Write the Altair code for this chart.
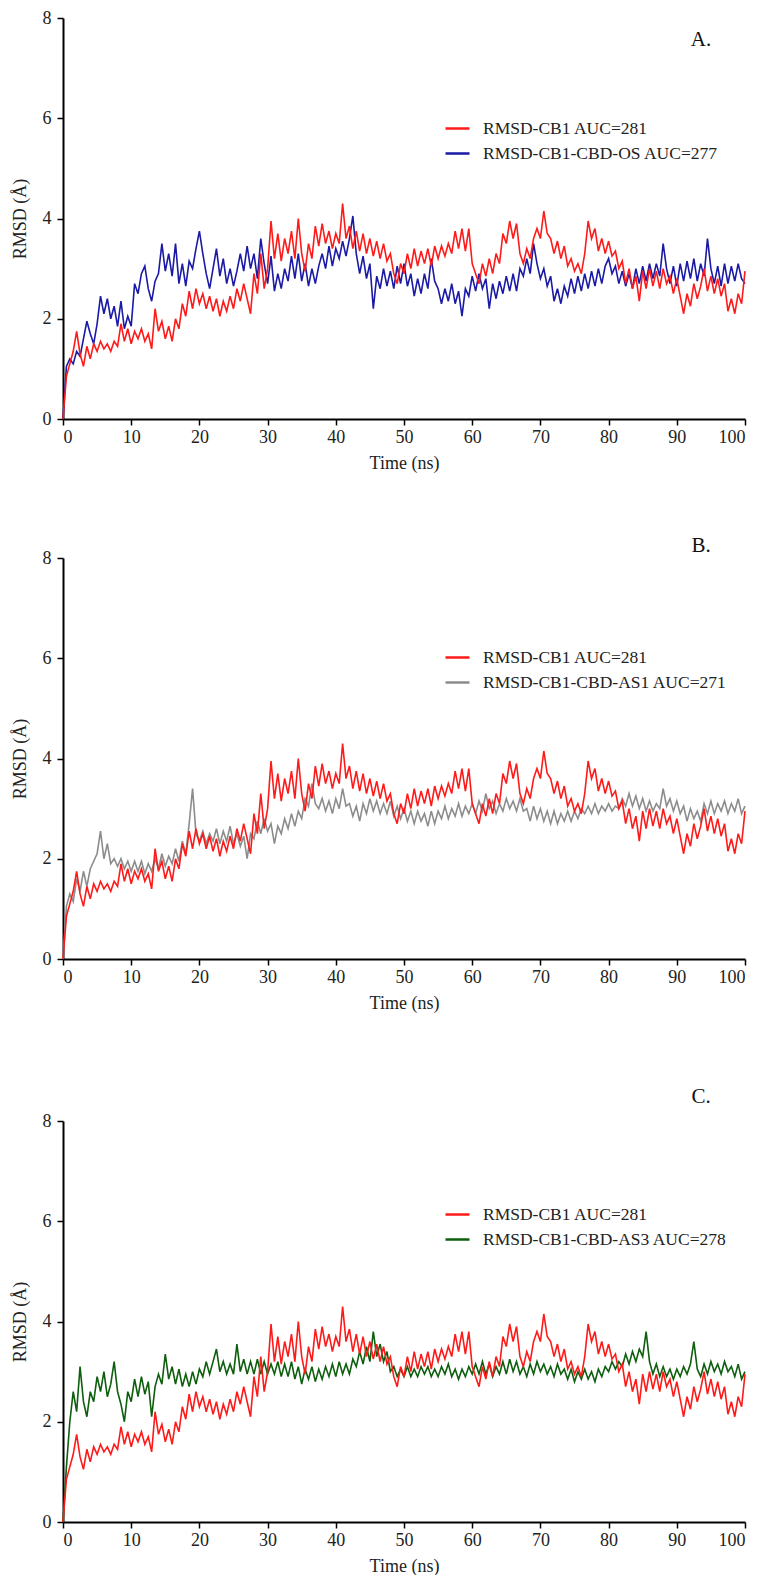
import altair as alt
import pandas as pd
import numpy as np

# time axis (ns), sampled every 0.5 ns
time_ns = [round(x, 1) for x in np.arange(0, 100.5, 0.5)]

rmsd_cb1 = [
    0, 0.85, 1.1, 1.35, 1.75, 1.3, 1.05, 1.45, 1.2, 1.5,
    1.35, 1.55, 1.4, 1.5, 1.35, 1.55, 1.45, 1.9, 1.55, 1.8,
    1.5, 1.75, 1.6, 1.8, 1.55, 1.7, 1.4, 2.2, 1.75, 1.95,
    1.6, 1.85, 1.55, 2.0, 1.8, 2.3, 2.05, 2.55, 2.2, 2.6,
    2.3, 2.5, 2.2, 2.45, 2.15, 2.4, 2.05, 2.35, 2.15, 2.45,
    2.2, 2.6, 2.35, 2.7, 2.4, 2.1, 2.9, 2.5, 3.3, 2.6,
    3.0, 3.95, 3.2, 3.7, 3.15, 3.6, 3.3, 3.75, 3.2, 4.0,
    3.3, 2.95, 3.5, 3.2, 3.85, 3.45, 3.9, 3.5, 3.75, 3.4,
    3.7, 3.5, 4.3, 3.6, 3.85, 3.4, 3.75, 3.35, 3.7, 3.3,
    3.6, 3.25, 3.55, 3.2, 3.5, 3.15, 3.3, 2.9, 2.7, 3.1,
    2.9, 3.3, 3.0, 3.4, 3.05, 3.35, 3.1, 3.4, 3.05, 3.45,
    3.2, 3.45, 3.25, 3.5, 3.3, 3.75, 3.4, 3.8, 3.35, 3.8,
    3.1, 2.9, 2.7, 3.1, 2.85, 3.2, 2.9, 3.3, 3.1, 3.7,
    3.5, 3.95, 3.6, 3.9, 3.3, 3.1, 3.4, 3.2, 3.6, 3.8,
    3.6, 4.15, 3.7, 3.6, 3.3, 3.55, 3.2, 3.45, 3.05, 3.2,
    2.95, 3.1, 2.9, 3.3, 3.95, 3.6, 3.8, 3.35, 3.6, 3.3,
    3.55, 3.25, 3.35, 3.0, 3.15, 2.7, 3.0, 2.6, 2.85, 2.35,
    2.95, 2.6, 3.0, 2.65, 2.95, 2.6, 3.0, 2.7, 2.85, 2.5,
    2.8, 2.45, 2.1, 2.5, 2.25, 2.7, 2.4, 2.65, 3.0, 2.55,
    2.85, 2.5, 2.8, 2.45, 2.7, 2.15, 2.4, 2.1, 2.5, 2.3,
    2.95,
]

rmsd_os = [
    0, 1.05, 1.2, 1.1, 1.35, 1.25, 1.6, 1.95, 1.7, 1.5,
    1.9, 2.45, 2.1, 2.4, 2.0, 2.25, 1.85, 2.35, 1.8, 2.05,
    1.85, 2.7, 2.5, 2.9, 3.05, 2.6, 2.35, 2.75, 2.9, 3.5,
    2.95, 3.3, 2.85, 3.5, 2.7, 3.1, 2.65, 3.15, 3.0, 3.4,
    3.75, 3.3, 2.9, 2.6, 3.0, 3.4, 2.85, 3.2, 2.7, 3.0,
    2.65, 2.95, 3.3, 2.95, 3.45, 3.0, 3.3, 2.8, 3.6, 3.1,
    2.7, 3.25, 2.55, 2.9, 2.6, 3.0, 2.75, 3.25, 2.8, 3.3,
    2.75, 3.1, 2.65, 3.0, 2.7, 3.05, 3.3, 3.0, 3.45, 3.05,
    3.4, 3.2, 3.55, 3.25, 3.6, 4.05, 3.3, 2.9, 3.25, 2.8,
    3.1, 2.2, 2.85, 2.6, 3.0, 2.65, 2.95, 2.6, 3.05, 2.7,
    3.1, 2.65, 2.9, 2.45, 2.8, 2.5, 2.9, 2.6, 3.2, 2.75,
    2.6, 2.3, 2.6, 2.35, 2.7, 2.3, 2.55, 2.05, 2.6, 2.45,
    2.85, 2.55, 2.9, 2.6, 2.8, 2.2, 2.7, 2.4, 2.75, 2.5,
    2.85, 2.55, 2.9, 2.55, 3.0, 2.85, 3.2, 2.9, 3.5, 3.1,
    2.8, 3.0, 2.65, 2.85, 2.35, 2.6, 2.3, 2.65, 2.45, 2.8,
    2.5, 2.85, 2.55, 2.9, 2.6, 2.95, 2.65, 3.0, 2.7, 3.05,
    3.2, 2.9, 3.05, 2.7, 2.95, 2.65, 2.9, 2.6, 3.0, 2.7,
    3.05, 2.75, 3.1, 2.8, 3.1, 2.85, 3.5, 3.0, 2.7, 3.05,
    2.65, 3.1, 2.75, 3.15, 2.8, 3.2, 2.75, 3.1, 2.85, 3.6,
    3.0, 2.7, 3.05, 2.65, 3.1, 2.7, 3.05, 2.75, 3.1, 2.8,
    2.7,
]

rmsd_as1 = [
    0, 1.05, 1.3, 1.15, 1.6, 1.35, 1.75, 1.45, 1.8, 1.95,
    2.1, 2.55, 2.0, 2.3, 1.9, 2.0, 1.85, 2.0, 1.8, 1.95,
    1.75, 1.95, 1.75, 1.95, 1.7, 1.9, 1.75, 2.0, 1.8, 2.1,
    1.85, 2.05, 1.9, 2.2, 1.95, 2.35, 2.1, 2.7, 3.4, 2.5,
    2.35, 2.55, 2.3, 2.5, 2.35, 2.6, 2.3, 2.55, 2.35, 2.65,
    2.3, 2.5, 2.25, 2.45, 2.0, 2.5, 2.4, 2.75, 2.5, 2.8,
    2.55, 2.7, 2.3, 2.65, 2.5, 2.8, 2.6, 2.9, 2.65, 2.95,
    2.8, 3.2, 3.05, 3.5, 3.1, 3.0, 3.2, 2.95, 3.15, 2.9,
    3.2, 3.0, 3.4, 3.05, 3.1, 2.85, 3.05, 2.75, 3.1, 2.9,
    3.2, 2.95, 3.15, 2.9, 3.1, 2.9, 3.15, 2.85, 3.05, 2.8,
    3.0, 2.75, 2.95, 2.7, 2.95, 2.75, 2.9, 2.65, 2.95, 2.7,
    2.95, 2.8, 3.05, 2.8, 3.0, 2.85, 3.1, 2.85, 3.05, 2.9,
    3.1, 2.9, 3.15, 2.95, 3.3, 3.0, 3.15, 2.9, 3.1, 2.95,
    3.2, 3.0, 3.15, 2.95, 3.2, 2.95, 3.0, 2.75, 3.05, 2.8,
    3.0, 2.75, 2.95, 2.7, 2.95, 2.7, 2.9, 2.75, 2.95, 2.75,
    2.95, 2.8, 3.0, 2.9, 3.05, 2.9, 3.1, 2.9, 3.05, 2.95,
    3.1, 2.95, 3.05, 3.0, 3.2, 3.05, 3.3, 3.05, 3.25, 3.0,
    3.2, 2.95, 3.15, 2.95, 3.1, 3.0, 3.4, 3.05, 3.2, 2.95,
    3.15, 2.9, 3.05, 2.75, 3.0, 2.8, 2.95, 2.75, 3.1, 2.9,
    3.15, 2.9, 3.1, 2.95, 3.15, 2.9, 3.1, 2.95, 3.2, 2.9,
    3.05,
]

rmsd_as3 = [
    0, 1.1, 2.0, 2.6, 2.2, 3.1, 2.4, 2.1, 2.6, 2.4,
    2.9, 2.6, 3.0, 2.5, 2.75, 3.2, 2.6, 2.35, 2.0, 2.6,
    2.4, 2.85, 2.5, 2.9, 2.55, 2.8, 2.1, 2.7, 2.95, 2.75,
    3.35, 2.85, 3.1, 2.75, 3.05, 2.7, 2.95, 2.7, 3.0, 2.75,
    3.05, 2.9, 3.2, 2.95, 3.2, 3.45, 3.0, 3.2, 2.95, 3.15,
    2.95, 3.55, 3.0, 3.25, 2.95, 3.2, 2.95, 3.25, 2.95, 3.2,
    2.95, 3.15, 2.95, 3.2, 2.9, 3.15, 2.9, 3.2, 2.85, 3.1,
    2.75, 3.05, 2.85, 3.1, 2.8, 3.05, 2.85, 3.1, 2.9, 3.15,
    2.9, 3.2, 2.95, 3.15, 2.95, 3.25, 3.1, 3.4, 3.15, 3.5,
    3.2, 3.8, 3.3, 3.55, 3.2, 3.4, 3.0, 3.1, 2.9, 3.05,
    2.9, 3.1, 2.9, 3.05, 2.9, 3.1, 2.95, 3.1, 2.9, 3.05,
    2.9, 3.1, 2.95, 3.15, 2.9, 3.05, 2.85, 3.05, 2.9, 3.1,
    2.95, 3.15, 2.95, 3.2, 2.95, 3.15, 2.9, 3.1, 2.95, 3.2,
    2.95, 3.25, 3.0, 3.2, 2.95, 3.1, 2.9, 3.15, 2.95, 3.2,
    3.0, 3.15, 2.95, 3.1, 2.9, 3.15, 2.95, 3.05, 2.85, 3.05,
    2.8, 3.0, 2.85, 3.05, 2.85, 3.0, 2.8, 3.05, 2.9, 3.1,
    3.0, 3.2, 3.05, 3.2, 3.1, 3.35, 3.15, 3.4, 3.2, 3.45,
    3.3, 3.8, 3.2, 2.95, 3.15, 2.9, 3.1, 2.9, 3.05, 2.85,
    3.05, 2.9, 3.1, 2.95, 3.15, 3.6, 3.05, 2.9, 3.15, 2.95,
    3.2, 3.0, 3.15, 2.95, 3.2, 3.0, 3.1, 2.9, 3.15, 2.85,
    3.0,
]

for s in (rmsd_cb1, rmsd_os, rmsd_as1, rmsd_as3):
    assert len(s) == len(time_ns), len(s)

y_ticks = [0, 2, 4, 6, 8]
x_ticks = [0, 10, 20, 30, 40, 50, 60, 70, 80, 90, 100]

RED = "#ff1a1a"
FONT = "Liberation Serif"
W, H = 682, 401


def panel(red_label, other_label, other_vals, other_color, letter,
          legend_y, letter_y):
    df_red = pd.DataFrame({"t": time_ns, "v": rmsd_cb1, "series": red_label})
    df_oth = pd.DataFrame({"t": time_ns, "v": other_vals, "series": other_label})
    x = alt.X("t:Q", title="Time (ns)",
              scale=alt.Scale(domain=[0, 100], nice=False),
              axis=alt.Axis(values=x_ticks, format="d"))
    y = alt.Y("v:Q", title="RMSD (Å)",
              scale=alt.Scale(domain=[0, 8], nice=False),
              axis=alt.Axis(values=y_ticks, format="d"))
    color = alt.Color(
        "series:N",
        scale=alt.Scale(domain=[red_label, other_label],
                        range=[RED, other_color]),
        legend=alt.Legend(orient="none", legendX=381, legendY=legend_y,
                          title=None, symbolType="stroke",
                          symbolSize=576, symbolStrokeWidth=2.5,
                          labelFont=FONT, labelFontSize=17.5,
                          labelColor="#222222", labelOffset=12,
                          rowPadding=3, labelLimit=400),
    )
    oth = alt.Chart(df_oth).mark_line(strokeWidth=1.6).encode(
        x=x, y=y, color=color)
    red = alt.Chart(df_red).mark_line(strokeWidth=1.6).encode(
        x=x, y=y, color=color)
    lab = alt.Chart(pd.DataFrame({"l": [letter]})).mark_text(
        font=FONT, fontSize=21, color="#111111", align="center",
        baseline="middle").encode(
        text="l:N", x=alt.value(638), y=alt.value(letter_y))
    return alt.layer(oth, red, lab).properties(width=W, height=H)


pA = panel("RMSD-CB1 AUC=281", "RMSD-CB1-CBD-OS  AUC=277", rmsd_os,
           "#1a1aa6", "A.", 97, 22)
pB = panel("RMSD-CB1  AUC=281", "RMSD-CB1-CBD-AS1  AUC=271", rmsd_as1,
           "#8c8c8c", "B.", 86, -12)
pC = panel("RMSD-CB1  AUC=281", "RMSD-CB1-CBD-AS3 AUC=278", rmsd_as3,
           "#0d5e0d", "C.", 80, -24)

chart = alt.vconcat(
    alt.vconcat(pA, pB, spacing=63).resolve_scale(color="independent"),
    pC, spacing=74,
).resolve_scale(color="independent").properties(
    padding={"left": 3, "top": 1, "right": 2, "bottom": 0}
).configure_view(stroke=None).configure_axis(
    grid=False, domainColor="black", domainWidth=2, tickColor="black",
    tickWidth=1.5, tickSize=6, labelFont=FONT, labelFontSize=18,
    labelColor="#222222", titleFont=FONT, titleFontSize=18,
    titleFontWeight="normal", titleColor="#222222", labelPadding=3,
).configure_axisY(titlePadding=13, labelPadding=6).configure_axisX(
    titlePadding=8)

chart.save("out.html", embed_options={"renderer": "svg", "actions": False})
